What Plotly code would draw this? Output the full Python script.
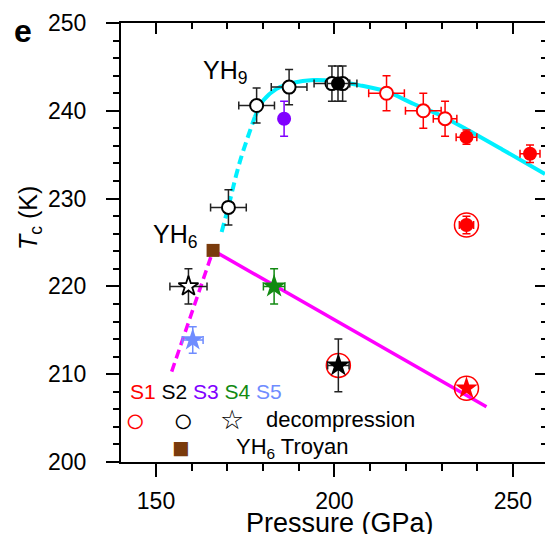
import plotly.graph_objects as go

# ---------------- data (Pressure in GPa, Tc in K) ----------------
s1_open_P = [214.6, 224.9, 231.0]
s1_open_T = [242.0, 240.0, 239.1]
s1_open_Perr = [5.0, 5.0, 3.3]
s1_open_Terr = [2.0, 2.0, 2.0]

s1_fill_P = [237.0, 254.8, 237.0]
s1_fill_T = [237.0, 235.1, 227.0]
s1_fill_Perr = [2.9, 2.8, 2.0]
s1_fill_Terr = [0.8, 1.0, 1.0]

ring_P = [237.0, 237.0, 201.1]
ring_T = [227.0, 208.4, 211.0]

s2_open_P = [170.3, 178.2, 187.3, 199.3, 202.3]
s2_open_T = [229.0, 240.6, 242.7, 243.1, 243.1]
s2_open_Perr = [5.0, 5.0, 5.0, 5.0, 4.0]
s2_open_Terr = [2.0, 2.0, 2.0, 2.0, 2.0]

s2_fill_P = [201.0]
s2_fill_T = [243.1]
s2_fill_Perr = [3.0]
s2_fill_Terr = [2.0]

s3_P = [185.9]
s3_T = [239.1]
s3_Perr = [1.0]
s3_Terr = [2.0]

decomp_open_P = [159.1]
decomp_open_T = [220.0]
decomp_open_Perr = [5.2]
decomp_open_Terr = [2.0]

s5_star_P = [160.3]
s5_star_T = [213.9]
s5_star_Perr = [2.9]
s5_star_Terr = [1.5]

s4_star_P = [183.1]
s4_star_T = [220.0]
s4_star_Perr = [3.0]
s4_star_Terr = [2.0]

s2_star_P = [201.1]
s2_star_T = [211.0]
s2_star_Perr = [3.0]
s2_star_Terr = [3.0]

s1_star_P = [237.0]
s1_star_T = [208.4]

troyan_P = [166.0]
troyan_T = [224.1]

yh9_dash_P = [168.4, 170.3, 173.5, 177.7]
yh9_dash_T = [226.2, 229.1, 234.2, 239.3]
yh9_fit_P = [177.7, 180.1, 183.8, 188.5, 194.1, 199.7, 207.1, 214.6, 222.1, 229.6, 237.0, 247.0, 259.0]
yh9_fit_T = [239.3, 241.2, 242.5, 243.2, 243.5, 243.4, 242.9, 242.2, 240.8, 239.5, 237.9, 235.6, 232.8]

yh6_dash_P = [154.4, 166.0]
yh6_dash_T = [210.3, 224.1]
yh6_fit_P = [166.0, 242.6]
yh6_fit_T = [224.1, 206.3]

x_range = [140.2, 259.0]
y_range = [200, 250]
x_ticks = [150, 200, 250]
y_ticks = [200, 210, 220, 230, 240, 250]

# ---------------- style ----------------
RED = "#ff0000"
BLACK = "#000000"
PURPLE = "#8000ff"
GREEN = "#128a12"
LBLUE = "#6f8cff"
BROWN = "#7a3b0c"
CYAN = "#00f0ff"
MAGENTA = "#ff00ff"
FONT = "Liberation Sans, Arial, sans-serif"

W, H = 545, 534
L, R, T, B = 121, 0, 22.7, 71.7
PW = W - L - R
PH = H - T - B


def paper(xp, yp):
    return (xp - L) / PW, (H - B - yp) / PH


def err(arr, color):
    return dict(type="data", array=arr, color=color, thickness=1.5, width=4, visible=True)


fig = go.Figure()

# fitted / guide lines
fig.add_trace(go.Scatter(x=yh9_dash_P, y=yh9_dash_T, mode="lines",
                         line=dict(color=CYAN, width=4, dash="9px,5px", shape="spline")))
fig.add_trace(go.Scatter(x=yh9_fit_P, y=yh9_fit_T, mode="lines",
                         line=dict(color=CYAN, width=4, shape="spline", smoothing=0.8)))
fig.add_trace(go.Scatter(x=yh6_dash_P, y=yh6_dash_T, mode="lines",
                         line=dict(color=MAGENTA, width=3.5, dash="9px,5px")))
fig.add_trace(go.Scatter(x=yh6_fit_P, y=yh6_fit_T, mode="lines",
                         line=dict(color=MAGENTA, width=3.5)))

# rings (decompression highlight)
fig.add_trace(go.Scatter(x=ring_P, y=ring_T, mode="markers",
                         marker=dict(symbol="circle-open", size=24, color=RED, line=dict(width=1.5, color=RED))))

# S1 open circles
fig.add_trace(go.Scatter(x=s1_open_P, y=s1_open_T, mode="markers",
                         error_x=err(s1_open_Perr, RED), error_y=err(s1_open_Terr, RED),
                         marker=dict(symbol="circle", size=13, color="white", line=dict(width=2, color=RED))))
# S1 filled circles
fig.add_trace(go.Scatter(x=s1_fill_P, y=s1_fill_T, mode="markers",
                         error_x=err(s1_fill_Perr, RED), error_y=err(s1_fill_Terr, RED),
                         marker=dict(symbol="circle", size=14, color=RED, line=dict(width=0))))
# S2 open circles
fig.add_trace(go.Scatter(x=s2_open_P, y=s2_open_T, mode="markers",
                         error_x=err(s2_open_Perr, "#222222"), error_y=err(s2_open_Terr, "#222222"),
                         marker=dict(symbol="circle", size=13, color="white", line=dict(width=2, color=BLACK))))
# S2 filled circle
fig.add_trace(go.Scatter(x=s2_fill_P, y=s2_fill_T, mode="markers",
                         error_x=err(s2_fill_Perr, "#222222"), error_y=err(s2_fill_Terr, "#222222"),
                         marker=dict(symbol="circle", size=14, color=BLACK, line=dict(width=0))))
# S3
fig.add_trace(go.Scatter(x=s3_P, y=s3_T, mode="markers",
                         error_x=err(s3_Perr, PURPLE), error_y=err(s3_Terr, PURPLE),
                         marker=dict(symbol="circle", size=14, color=PURPLE, line=dict(width=0))))
# stars
fig.add_trace(go.Scatter(x=decomp_open_P, y=decomp_open_T, mode="markers",
                         error_x=err(decomp_open_Perr, "#222222"), error_y=err(decomp_open_Terr, "#222222"),
                         marker=dict(symbol="star", size=15, color="white", line=dict(width=1.8, color=BLACK))))
fig.add_trace(go.Scatter(x=s5_star_P, y=s5_star_T, mode="markers",
                         error_x=err(s5_star_Perr, LBLUE), error_y=err(s5_star_Terr, LBLUE),
                         marker=dict(symbol="star", size=17, color=LBLUE, line=dict(width=0))))
fig.add_trace(go.Scatter(x=s4_star_P, y=s4_star_T, mode="markers",
                         error_x=err(s4_star_Perr, GREEN), error_y=err(s4_star_Terr, GREEN),
                         marker=dict(symbol="star", size=18, color=GREEN, line=dict(width=0))))
fig.add_trace(go.Scatter(x=s2_star_P, y=s2_star_T, mode="markers",
                         error_x=err(s2_star_Perr, "#222222"), error_y=err(s2_star_Terr, "#222222"),
                         marker=dict(symbol="star", size=18, color=BLACK, line=dict(width=0))))
fig.add_trace(go.Scatter(x=s1_star_P, y=s1_star_T, mode="markers",
                         marker=dict(symbol="star", size=17, color=RED, line=dict(width=0))))
# Troyan
fig.add_trace(go.Scatter(x=troyan_P, y=troyan_T, mode="markers",
                         marker=dict(symbol="square", size=13, color=BROWN, line=dict(width=0))))
# dummy trace to activate mirror axes
fig.add_trace(go.Scatter(x=[None], y=[None], xaxis="x2", yaxis="y2", mode="markers"))

axis_common = dict(showgrid=False, zeroline=False, color="black", linecolor="black", tickcolor="black")

fig.update_layout(
    width=W, height=H,
    margin=dict(l=L, r=R, t=T, b=B, pad=0),
    paper_bgcolor="white", plot_bgcolor="white",
    showlegend=False,
    font=dict(family=FONT, color="black"),
    xaxis=dict(range=x_range, tickmode="array", tickvals=x_ticks, ticks="outside", ticklen=13, tickwidth=2,
               showline=True, linewidth=2, tickfont=dict(size=23, family=FONT), ticklabelstandoff=4,
               minor=dict(tickmode="linear", tick0=150, dtick=10, ticks="outside", ticklen=7, tickwidth=2,
                          tickcolor="black", showgrid=False),
               **axis_common),
    yaxis=dict(range=y_range, tickmode="array", tickvals=y_ticks, ticks="outside", ticklen=13, tickwidth=2,
               showline=True, linewidth=2, tickfont=dict(size=23, family=FONT), ticklabelstandoff=15,
               minor=dict(tickmode="linear", tick0=200, dtick=2, ticks="outside", ticklen=6, tickwidth=2,
                          tickcolor="black", showgrid=False),
               **axis_common),
    xaxis2=dict(range=x_range, overlaying="x", side="top", anchor="y", tickmode="array", tickvals=x_ticks,
                ticks="inside", ticklen=11, tickwidth=2, showticklabels=False, showline=True, linewidth=2,
                minor=dict(tickmode="linear", tick0=150, dtick=10, ticks="inside", ticklen=6, tickwidth=2,
                           tickcolor="black", showgrid=False),
                **axis_common),
    yaxis2=dict(range=y_range, overlaying="y", side="right", anchor="x", tickmode="array", tickvals=y_ticks,
                ticks="inside", ticklen=10, tickwidth=2, showticklabels=False, showline=False,
                minor=dict(tickmode="linear", tick0=200, dtick=2, ticks="inside", ticklen=4, tickwidth=2,
                           tickcolor="black", showgrid=False),
                **axis_common),
)

ann = []


def add_text(text, xp, yp, size, xanchor="left", yanchor="middle", color="black", angle=0):
    px_, py_ = paper(xp, yp)
    ann.append(dict(text=text, x=px_, y=py_, xref="paper", yref="paper", showarrow=False,
                    xanchor=xanchor, yanchor=yanchor, textangle=angle,
                    font=dict(size=size, color=color, family=FONT)))


# axis titles and panel letter
add_text("Pressure (GPa)", 340, 523, 27, xanchor="center")
add_text("<i>T</i><sub>c</sub> (K)", 30, 218, 25, xanchor="center", angle=-90)
add_text("<b>e</b>", 23, 31, 32, xanchor="center")

# compound labels
add_text("YH<sub>9</sub>", 201, 72, 25)
add_text("YH<sub>6</sub>", 151, 236, 25)

# legend block
add_text("<span style='color:#ff0000'>S1</span> S2 <span style='color:#8000ff'>S3</span> "
         "<span style='color:#128a12'>S4</span> <span style='color:#6f8cff'>S5</span>", 128, 392, 21)
add_text("<b>○</b>", 135, 420, 34, xanchor="center", color=RED)
add_text("<b>○</b>", 183, 420, 34, xanchor="center")
add_text("☆", 232, 420, 27, xanchor="center")
add_text("decompression", 264, 420, 22)
add_text("■", 181, 448, 29, xanchor="center", color=BROWN)
add_text("YH<sub>6</sub> Troyan", 234, 448, 22)

fig.update_layout(annotations=ann)

fig.write_html("out.html")
